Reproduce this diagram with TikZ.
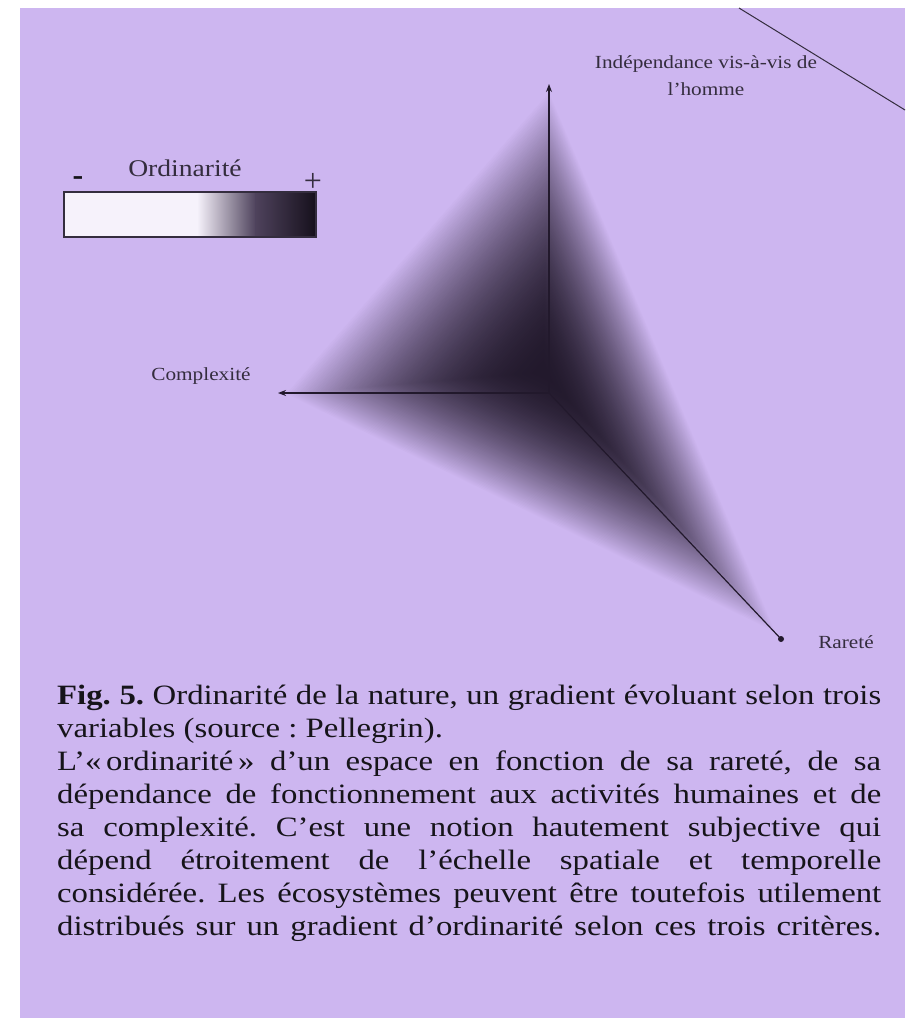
\documentclass[tikz,border=0pt]{standalone}
\usepackage{fontspec}
\setmainfont{Liberation Serif}
\newfontfamily\lblfont[FakeStretch=1.15]{Liberation Serif}
\newfontfamily\capfont[FakeStretch=1.17]{Liberation Serif}
\usetikzlibrary{calc,arrows.meta}
\definecolor{lav}{RGB}{205,182,240}
\definecolor{dk}{RGB}{34,25,44}
\definecolor{ink}{RGB}{22,20,26}
\definecolor{lbl}{RGB}{52,45,62}
\definecolor{legw}{RGB}{246,242,251}
\definecolor{legm}{RGB}{78,66,92}
\definecolor{legd}{RGB}{22,16,28}
\tikzset{
  axisline/.style={draw=dk, line width=1.2pt},
  tipstyle/.style={-{Stealth[length=8pt,width=6pt]}},
  lblnode/.style={text=lbl, font=\lblfont\fontsize{18.5}{27}\selectfont, inner sep=0pt, align=center},
}
\begin{document}
\begin{tikzpicture}[x=1pt,y=-1pt]
\useasboundingbox (0,0) rectangle (910,1018);
\fill[white] (0,0) rectangle (910,1018);
\fill[lav] (20,8) rectangle (905,1018);

% key points
\coordinate (O) at (549,393);
\coordinate (T) at (549,84);
\coordinate (L) at (278,393);
\coordinate (R) at (781,639);
\coordinate (C) at (543,372);
\coordinate (TriT) at (549,90);
\coordinate (TriL) at (284,394);
\coordinate (TriR) at (777,634);

% shaded pyramid
\foreach \i in {0,...,99}{
  \pgfmathsetmacro\s{1-\i/100}
  \pgfmathsetmacro\t{100*(1-\s^1.9)}
  \fill[dk!\t!lav] ($(C)!\s!(TriT)$) -- ($(C)!\s!(TriL)$) -- ($(C)!\s!(TriR)$) -- cycle;
}

% axes
\draw[axisline, tipstyle] (O) -- (T);
\draw[axisline, tipstyle] (O) -- (L);
\draw[axisline] (O) -- (R);
\fill[dk] (R) circle (3pt);

% axis labels
\node[lblnode] (indep) at (706,76) {Indépendance vis-à-vis de\\l’homme};
\node[lblnode] (compl) at (201,376) {Complexité};
\node[lblnode] (rarete) at (846,642) {Rareté};

% corner line
\coordinate (cl1) at (739,8);
\coordinate (cl2) at (905,110);
\draw[draw=lbl, line width=1pt] (cl1) -- (cl2);

% legend
\fill[legw] (64,192) rectangle (197,237);
\shade[left color=legw, right color=legm] (197,192) rectangle (256,237);
\shade[left color=legm, right color=legd] (255.5,192) rectangle (316,237);
\draw[draw=lbl, line width=1.2pt] (64,192) rectangle (316,237);
\node[text=lbl, font=\lblfont\fontsize{24}{26}\selectfont, inner sep=0pt] (ordtitle) at (185,168) {Ordinarité};
\node[text=ink, font=\bfseries\fontsize{32}{32}\selectfont, inner sep=0pt] (minus) at (78,181) {-};
\node[text=lbl, font=\fontsize{32}{32}\selectfont, inner sep=0pt] (plus) at (313,182) {+};

% caption
\node[anchor=north west, text width=824pt, inner sep=0pt, text=ink, align=justify] (caption) at (57,685)
{\capfont\fontsize{28}{33}\selectfont\parindent=0pt\frenchspacing
\textbf{Fig. 5.} Ordinarité de la nature, un gradient évoluant selon trois\linebreak
variables (source : Pellegrin).\par
L’«\,ordinarité\,» d’un espace en fonction de sa rareté, de sa\linebreak
dépendance de fonctionnement aux activités humaines et de\linebreak
sa complexité. C’est une notion hautement subjective qui\linebreak
dépend étroitement de l’échelle spatiale et temporelle\linebreak
considérée. Les écosystèmes peuvent être toutefois utilement\linebreak
distribués sur un gradient d’ordinarité selon ces trois critères.\parfillskip=0pt\par};
\end{tikzpicture}
\end{document}
